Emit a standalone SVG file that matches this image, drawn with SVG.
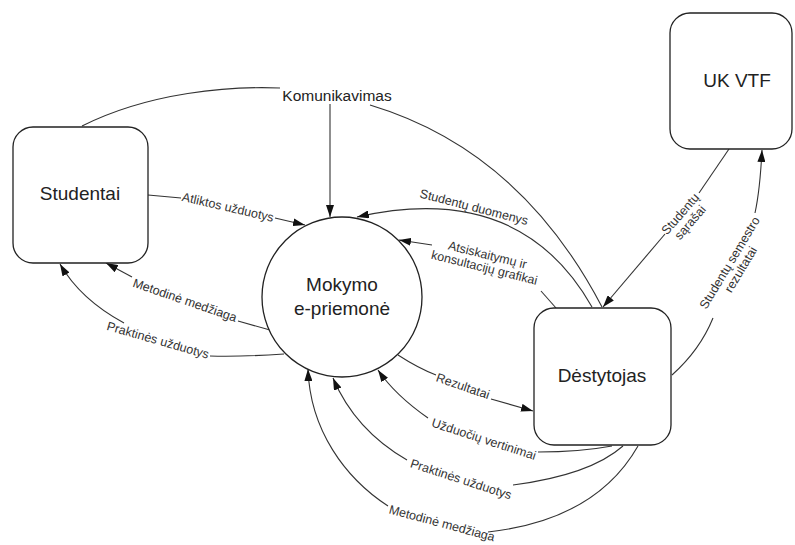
<svg xmlns="http://www.w3.org/2000/svg" width="795" height="545" viewBox="0 0 795 545">
  <defs>
    <marker id="arr" viewBox="0 0 12 8" refX="12" refY="4" markerWidth="12" markerHeight="8" orient="auto" markerUnits="userSpaceOnUse">
      <path d="M0,0 L12,4 L0,8 z" fill="#111"/>
    </marker>
    <style>
      .node { fill: #fff; stroke: #222; stroke-width: 1.3; }
      .ntxt { font-family: "Liberation Sans", Arial, sans-serif; font-size: 19px; fill: #222; text-anchor: middle; }
      .edge { fill: none; stroke: #333; stroke-width: 1.1; }
      .ltxt { font-family: "Liberation Sans", Arial, sans-serif; font-size: 12.5px; fill: #333; text-anchor: middle; }
      .ktxt { font-family: "Liberation Sans", Arial, sans-serif; font-size: 15.5px; fill: #222; text-anchor: middle; }
    </style>
  </defs>
  <rect width="795" height="545" fill="#fff"/>

  <!-- connectors -->
  <g id="connectors">
    <!-- Komunikavimas -->
    <path class="edge" d="M82,126 C150,92 230,86 280,88"/>
    <path class="edge" d="M330,104 L330,217" marker-end="url(#arr)"/>
    <path class="edge" d="M370,105 Q520,150 602,307"/>
    <text class="ktxt" x="337" y="101">Komunikavimas</text>

    <!-- Atliktos užduotys -->
    <path class="edge" d="M148,195 L181,198"/>
    <path class="edge" d="M275,218 L305,225" marker-end="url(#arr)"/>
    <text class="ltxt" transform="translate(228,207) rotate(13)" y="4.4">Atliktos užduotys</text>

    <!-- Metodinė medžiaga (to Studentai) -->
    <path class="edge" d="M270,330 L238,321"/>
    <path class="edge" d="M132,277 L106,263" marker-end="url(#arr)"/>
    <text class="ltxt" transform="translate(185,300) rotate(19)" y="4.4">Metodinė medžiaga</text>

    <!-- Praktinės užduotys (to Studentai) -->
    <path class="edge" d="M284,354 Q240,357 210,356"/>
    <path class="edge" d="M124,323 C100,310 75,290 60,264" marker-end="url(#arr)"/>
    <text class="ltxt" transform="translate(158,340) rotate(16)" y="4.4">Praktinės užduotys</text>

    <!-- Studentų duomenys -->
    <path class="edge" d="M592,307 Q520,180 357,217" marker-end="url(#arr)"/>
    <text class="ltxt" transform="translate(474,207) rotate(14.5)" y="4.4">Studentų duomenys</text>

    <!-- Atsiskaitymų ir konsultacijų grafikai -->
    <path class="edge" d="M556,308 L541,291"/>
    <path class="edge" d="M432,245 L399,240" marker-end="url(#arr)"/>
    <text class="ltxt" transform="translate(486,261) rotate(14)"><tspan x="0" y="-2">Atsiskaitymų ir</tspan><tspan x="0" y="11">konsultacijų grafikai</tspan></text>

    <!-- Rezultatai -->
    <path class="edge" d="M398,355 Q418,368 436,375"/>
    <path class="edge" d="M491,399 L533,411" marker-end="url(#arr)"/>
    <text class="ltxt" transform="translate(463,386) rotate(19)" y="4.4">Rezultatai</text>

    <!-- Užduočių vertinimai -->
    <path class="edge" d="M612,446 Q580,452 538,452"/>
    <path class="edge" d="M428,418 Q395,395 378,370" marker-end="url(#arr)"/>
    <text class="ltxt" transform="translate(484,439) rotate(18)" y="4.4">Užduočių vertinimai</text>

    <!-- Praktinės užduotys (from Dėstytojas) -->
    <path class="edge" d="M623,446 Q590,475 513,485"/>
    <path class="edge" d="M407,460 Q355,430 333,378" marker-end="url(#arr)"/>
    <text class="ltxt" transform="translate(461,479) rotate(18)" y="4.4">Praktinės užduotys</text>

    <!-- Metodinė medžiaga (from Dėstytojas) -->
    <path class="edge" d="M638,446 C610,495 560,524 488,532"/>
    <path class="edge" d="M388,506 C345,478 310,430 308,369" marker-end="url(#arr)"/>
    <text class="ltxt" transform="translate(442,523) rotate(15)" y="4.4">Metodinė medžiaga</text>

    <!-- Studentų sąrašai -->
    <path class="edge" d="M729,149 L699,193"/>
    <path class="edge" d="M665,234 L603,307" marker-end="url(#arr)"/>
    <text class="ltxt" transform="translate(685,218) rotate(-49)"><tspan x="0" y="-2">Studentų</tspan><tspan x="0" y="11">sąrašai</tspan></text>

    <!-- Studentų semestro rezultatai -->
    <path class="edge" d="M672,375 Q700,350 713,318"/>
    <path class="edge" d="M755,213 Q760,190 762,150" marker-end="url(#arr)"/>
    <text class="ltxt" transform="translate(735,266) rotate(-59)"><tspan x="0" y="-2">Studentų semestro</tspan><tspan x="0" y="11">rezultatai</tspan></text>
  </g>

  <!-- nodes -->
  <g id="studentai">
    <rect class="node" x="13" y="127" width="135" height="136" rx="20" ry="20"/>
    <text class="ntxt" x="80" y="200">Studentai</text>
  </g>
  <g id="mokymo-e-priemone">
    <circle class="node" cx="342" cy="297" r="80"/>
    <text class="ntxt" x="342" y="291">Mokymo</text>
    <text class="ntxt" x="342" y="315">e-priemonė</text>
  </g>
  <g id="destytojas">
    <rect class="node" x="534" y="308" width="137" height="137" rx="20" ry="20"/>
    <text class="ntxt" x="602" y="382">Dėstytojas</text>
  </g>
  <g id="uk-vtf">
    <rect class="node" x="670" y="13" width="122" height="136" rx="20" ry="20"/>
    <text class="ntxt" x="737" y="87">UK VTF</text>
  </g>
</svg>
